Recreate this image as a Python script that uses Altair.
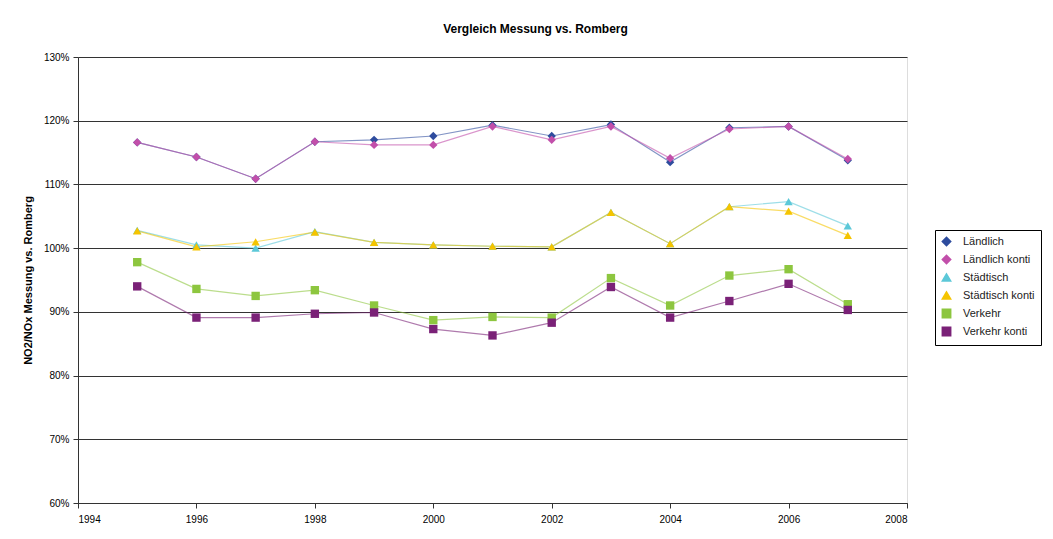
import altair as alt
import pandas as pd

years = [1995, 1996, 1997, 1998, 1999, 2000, 2001, 2002, 2003, 2004, 2005, 2006, 2007]

laendlich = [116.6, 114.3, 110.9, 116.7, 117.0, 117.6, 119.3, 117.6, 119.4, 113.5, 118.9, 119.1, 113.8]
laendlich_konti = [116.6, 114.3, 110.9, 116.7, 116.2, 116.2, 119.1, 117.0, 119.1, 114.1, 118.7, 119.1, 114.0]
staedtisch = [102.8, 100.5, 100.0, 102.6, 100.9, 100.5, 100.3, 100.2, 105.6, 100.7, 106.5, 107.3, 103.5]
staedtisch_konti = [102.7, 100.2, 101.0, 102.5, 100.9, 100.5, 100.3, 100.2, 105.6, 100.7, 106.5, 105.8, 102.0]
verkehr = [97.8, 93.6, 92.5, 93.4, 91.0, 88.7, 89.2, 89.1, 95.3, 91.0, 95.7, 96.7, 91.2]
verkehr_konti = [94.0, 89.1, 89.1, 89.7, 89.9, 87.3, 86.3, 88.3, 93.9, 89.1, 91.7, 94.4, 90.3]

series_names = ["Ländlich", "Ländlich konti", "Städtisch", "Städtisch konti", "Verkehr", "Verkehr konti"]
series_values = [laendlich, laendlich_konti, staedtisch, staedtisch_konti, verkehr, verkehr_konti]
colors = ["#2E4C9E", "#C24FAA", "#5CC8D8", "#F5C400", "#8DC63F", "#7A2177"]
shapes = ["diamond", "diamond", "triangle-up", "triangle-up", "square", "square"]

rows = []
for i, (name, vals) in enumerate(zip(series_names, series_values)):
    for y, v in zip(years, vals):
        rows.append({"Serie": name, "Jahr": y, "Wert": v / 100.0})
df = pd.DataFrame(rows)

x_enc = alt.X("Jahr:Q",
              scale=alt.Scale(domain=[1994, 2008], nice=False, zero=False),
              axis=alt.Axis(values=list(range(1994, 2009, 2)), format="d", title=None,
                            grid=False, tickSize=5, labelPadding=6, domainColor="#333333",
                            tickColor="#333333"))
y_enc = alt.Y("Wert:Q",
              scale=alt.Scale(domain=[0.6, 1.3], nice=False, zero=False),
              axis=alt.Axis(values=[0.6, 0.7, 0.8, 0.9, 1.0, 1.1, 1.2, 1.3], format=".0%",
                            title="NO2/NOx Messung vs. Romberg", titleFontWeight="bold",
                            titleFontSize=11, titlePadding=10,
                            grid=True, gridColor="#333333", gridWidth=1, gridOpacity=1,
                            tickSize=5, labelPadding=4, domainColor="#333333",
                            tickColor="#333333"))

color_scale = alt.Scale(domain=series_names, range=colors)
shape_scale = alt.Scale(domain=series_names, range=shapes)

legend = alt.Legend(
    title=None, orient="none", legendX=857, legendY=173,
    strokeColor="#000000", fillColor="#ffffff", padding=6,
    labelFontSize=11, labelFont="Liberation Sans", labelColor="#222222",
    labelOffset=11, symbolSize=70, rowPadding=3, symbolOpacity=1)

lines = alt.Chart(df).mark_line(strokeWidth=1.2, opacity=0.6).encode(
    x=x_enc, y=y_enc,
    color=alt.Color("Serie:N", scale=color_scale, legend=legend),
    order=alt.Order("Jahr:Q"),
)

points = alt.Chart(df).mark_point(filled=True, size=70, opacity=1).encode(
    x=x_enc, y=y_enc,
    color=alt.Color("Serie:N", scale=color_scale, legend=legend),
    shape=alt.Shape("Serie:N", scale=shape_scale, legend=legend),
)

chart = alt.layer(lines, points).properties(
    width=829, height=446,
    title=alt.TitleParams("Vergleich Messung vs. Romberg", anchor="middle", frame="group",
                          dx=43, offset=16, fontSize=12, fontWeight="bold",
                          font="Liberation Sans", color="#000000"),
    autosize=alt.AutoSizeParams(type="none"),
    padding={"left": 70, "top": 49, "right": 138, "bottom": 24},
).configure_view(stroke="#808080", strokeWidth=1).configure_axis(
    labelFont="Liberation Sans", labelFontSize=11, labelColor="#222222",
    titleFont="Liberation Sans", titleColor="#000000",
).configure(background="#ffffff")

chart.save("out.html", embed_options={"renderer": "svg", "actions": False})
